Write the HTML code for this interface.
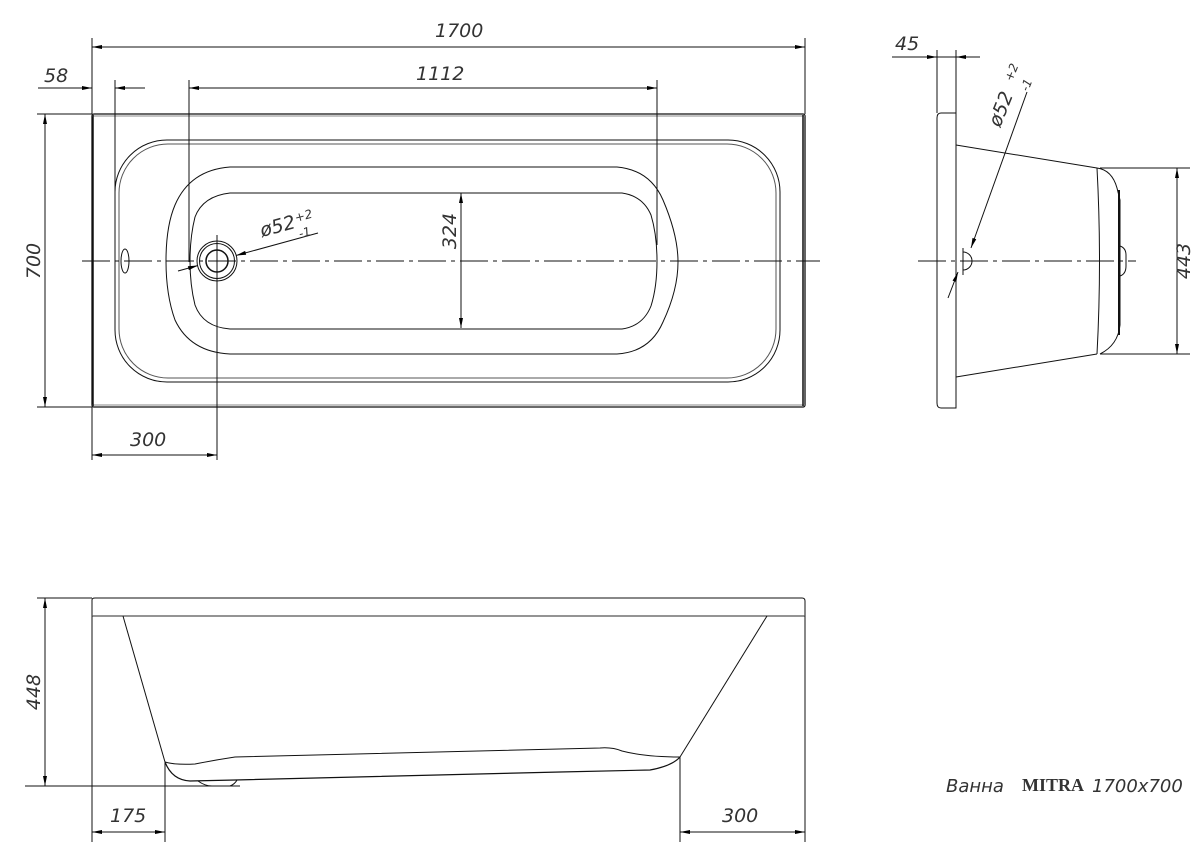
<!DOCTYPE html>
<html><head><meta charset="utf-8"><style>
html,body{margin:0;padding:0;background:#fff}
svg{display:block}
text{font-family:"DejaVu Sans","Liberation Sans",sans-serif;font-style:italic;fill:#333}
</style></head><body>
<svg width="1200" height="862" viewBox="0 0 1200 862" xmlns="http://www.w3.org/2000/svg">
<defs>
<marker id="a" viewBox="0 0 10 4" refX="10" refY="2" markerWidth="12" markerHeight="4" markerUnits="userSpaceOnUse" orient="auto-start-reverse"><path d="M0,0 L10,2 L0,4z" fill="#000"/></marker>
</defs>
<g fill="none" stroke="#111" stroke-width="1">
<rect x="92" y="114" width="713" height="293" rx="2" stroke-width="1.3"/>
<line x1="92" y1="116" x2="805" y2="116" stroke="#888"/>
<line x1="92" y1="405" x2="805" y2="405" stroke="#888"/>
<line x1="803" y1="115" x2="803" y2="406" stroke-width="1.5"/>
<line x1="93" y1="115" x2="93" y2="406" stroke-width="1.5"/>
<rect x="115" y="140" width="665" height="242" rx="52"/>
<rect x="119" y="144" width="657" height="234" rx="49" stroke="#555"/>
<path d="M230,167 L617,167 Q650,170 663,200 Q678,235 678,262 Q678,290 663,322 Q650,352 617,354 L230,354 Q190,352 175,320 Q166,295 166,261 Q166,226 175,205 Q190,170 230,167Z"/>
<path d="M230,193 L622,193 Q643,196 651,215 Q657,235 657,261 Q657,287 651,306 Q643,326 622,329 L230,329 Q203,327 195,305 Q190,285 190,261 Q190,237 195,217 Q203,196 230,193Z"/>
<ellipse cx="125" cy="261" rx="4" ry="12"/>
<circle cx="217" cy="261" r="20"/>
<circle cx="217" cy="261" r="17.5"/>
<circle cx="217" cy="261" r="11" stroke-width="1.5"/>
<line x1="217" y1="235" x2="217" y2="460"/>
<line x1="82" y1="261" x2="820" y2="261" stroke-dasharray="28,5,4,5"/>
<line x1="92" y1="38" x2="92" y2="114"/><line x1="805" y1="38" x2="805" y2="114"/>
<line x1="92" y1="47" x2="805" y2="47" marker-start="url(#a)" marker-end="url(#a)"/>
<line x1="189" y1="80" x2="189" y2="262"/><line x1="657" y1="80" x2="657" y2="245"/>
<line x1="189" y1="88" x2="657" y2="88" marker-start="url(#a)" marker-end="url(#a)"/>
<line x1="115" y1="80" x2="115" y2="195"/>
<line x1="38" y1="88" x2="92" y2="88" marker-end="url(#a)"/>
<line x1="145" y1="88" x2="115" y2="88" marker-end="url(#a)"/>
<line x1="37" y1="114" x2="92" y2="114"/><line x1="37" y1="407" x2="92" y2="407"/>
<line x1="45" y1="114" x2="45" y2="407" marker-start="url(#a)" marker-end="url(#a)"/>
<line x1="461" y1="193" x2="461" y2="328" marker-start="url(#a)" marker-end="url(#a)"/>
<line x1="92" y1="407" x2="92" y2="460"/>
<line x1="92" y1="455" x2="217" y2="455" marker-start="url(#a)" marker-end="url(#a)"/>
<line x1="178" y1="271" x2="198" y2="265.5" marker-end="url(#a)"/>
<line x1="318" y1="233" x2="236" y2="255.5" marker-end="url(#a)"/>
<path d="M937,118 Q937,113 941,113 L956,113 L956,408 L941,408 Q937,408 937,403Z"/>
<line x1="956" y1="145" x2="1097" y2="168"/>
<line x1="956" y1="377" x2="1097" y2="354"/>
<path d="M1097,168 Q1102,261 1097,354"/>
<path d="M1097,168 Q1112,170 1117,188 L1120,200 L1120,325 Q1118,345 1100,354"/>
<line x1="1119" y1="190" x2="1119" y2="335" stroke-width="2"/>
<path d="M1120,246 Q1126,248 1126,255 L1126,266 Q1126,274 1120,276"/>
<line x1="918" y1="261" x2="1136" y2="261" stroke-dasharray="28,5,4,5"/>
<path d="M963,252 A9,9 0 0 1 963,270"/>
<line x1="963" y1="248" x2="963" y2="275"/>
<line x1="1100" y1="168" x2="1190" y2="168"/><line x1="1100" y1="354" x2="1190" y2="354"/>
<line x1="1177" y1="168" x2="1177" y2="354" marker-start="url(#a)" marker-end="url(#a)"/>
<line x1="937" y1="50" x2="937" y2="113"/><line x1="956" y1="50" x2="956" y2="113"/>
<line x1="892" y1="57" x2="980" y2="57"/>
<line x1="915" y1="57" x2="937" y2="57" marker-end="url(#a)"/>
<line x1="978" y1="57" x2="956" y2="57" marker-end="url(#a)"/>
<line x1="1027" y1="92" x2="971" y2="248" marker-end="url(#a)"/>
<line x1="948" y1="298" x2="958" y2="272" marker-end="url(#a)"/>
<path d="M92,616 L92,600 Q92,598 95,598 L802,598 Q805,598 805,601 L805,616"/>
<line x1="92" y1="616" x2="805" y2="616" stroke="#555" stroke-width="1.3"/>
<line x1="123" y1="616" x2="165" y2="762"/>
<line x1="767" y1="616" x2="680" y2="757"/>
<path d="M165,762 Q175,765 195,764 Q215,760 235,757 L600,748 Q612,747 622,751 Q645,757 680,757"/>
<path d="M165,762 Q172,780 190,781 L235,780 L560,772 L650,770 Q672,766 680,757" stroke-width="1.2"/>
<path d="M198,781 Q205,786 212,786 L230,786 Q235,784 237,780"/>
<line x1="25" y1="786" x2="240" y2="786"/>
<line x1="37" y1="598" x2="92" y2="598"/>
<line x1="45" y1="598" x2="45" y2="786" marker-start="url(#a)" marker-end="url(#a)"/>
<line x1="92" y1="616" x2="92" y2="842"/>
<line x1="165" y1="762" x2="165" y2="842"/>
<line x1="680" y1="757" x2="680" y2="842"/>
<line x1="805" y1="616" x2="805" y2="842"/>
<line x1="92" y1="832" x2="165" y2="832" marker-start="url(#a)" marker-end="url(#a)"/>
<line x1="680" y1="832" x2="805" y2="832" marker-start="url(#a)" marker-end="url(#a)"/>
</g>
<g font-size="19">
<text x="435" y="37">1700</text>
<text x="416" y="80">1112</text>
<text x="44" y="82">58</text>
<text x="130" y="446">300</text>
<text transform="translate(40,261) rotate(-90)" text-anchor="middle">700</text>
<text transform="translate(456,231) rotate(-90)" text-anchor="middle">324</text>
<text transform="translate(262,237) rotate(-15)">ø52</text>
<text transform="translate(296,222) rotate(-15)" font-size="12">+2</text>
<text transform="translate(300,238) rotate(-15)" font-size="12">-1</text>
<text x="895" y="50">45</text>
<text transform="translate(1190,261) rotate(-90)" text-anchor="middle">443</text>
<text transform="translate(1000,128) rotate(-68)">ø52</text>
<text transform="translate(1012,82) rotate(-68)" font-size="12">+2</text>
<text transform="translate(1028,92) rotate(-68)" font-size="12">-1</text>
<text transform="translate(40,692) rotate(-90)" text-anchor="middle">448</text>
<text x="110" y="822">175</text>
<text x="722" y="822">300</text>
<text x="946" y="792" font-size="18">Ванна</text>
<text x="1022" y="791" font-size="18" style="font-family:'Liberation Serif',serif;font-style:normal;font-weight:bold">MITRA</text>
<text x="1092" y="792" font-size="18">1700x700</text>
</g>
</svg>
</body></html>
